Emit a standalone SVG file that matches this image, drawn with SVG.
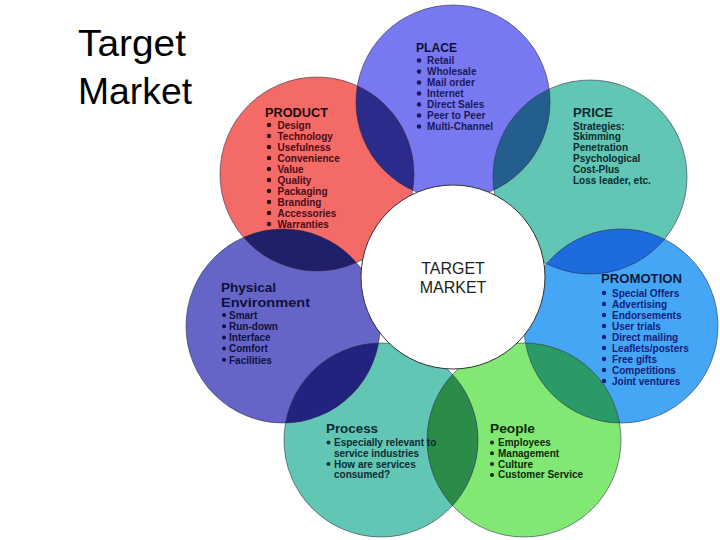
<svg xmlns="http://www.w3.org/2000/svg" width="720" height="540" viewBox="0 0 720 540">
<style>
.h{font-family:"Liberation Sans",Arial,sans-serif;font-weight:bold;font-size:12.5px}
.t{font-family:"Liberation Sans",Arial,sans-serif;font-weight:bold;font-size:10px}
.ring{fill:none;stroke:#262640;stroke-opacity:0.55;stroke-width:1}
.title{font-family:"Liberation Sans",Arial,sans-serif;font-size:37px;fill:#000}
.tm{font-family:"Liberation Sans",Arial,sans-serif;font-size:16px;fill:#222;text-anchor:middle}
</style>
<defs>
<clipPath id="cPlace"><circle cx="453" cy="102" r="97"/></clipPath>
<clipPath id="cPrice"><circle cx="590" cy="177" r="97"/></clipPath>
<clipPath id="cPromo"><circle cx="621" cy="326" r="97"/></clipPath>
<clipPath id="cPeople"><circle cx="524" cy="440" r="97"/></clipPath>
<clipPath id="cProcess"><circle cx="381" cy="440" r="97"/></clipPath>
<clipPath id="cPhys"><circle cx="283" cy="326" r="97"/></clipPath>
<clipPath id="cProduct"><circle cx="317" cy="174" r="97"/></clipPath>
</defs>
<rect width="720" height="540" fill="#fff"/>
<g id="heading">
<text class="title" x="78" y="56" textLength="108" lengthAdjust="spacingAndGlyphs">Target</text>
<text class="title" x="78" y="104" textLength="114" lengthAdjust="spacingAndGlyphs">Market</text>
</g>
<g id="circles">
<circle id="c-place" cx="453" cy="102" r="97" fill="#7878F0"/>
<circle id="c-price" cx="590" cy="177" r="97" fill="#62C6B4"/>
<circle id="c-promo" cx="621" cy="326" r="97" fill="#46A6F6"/>
<circle id="c-people" cx="524" cy="440" r="97" fill="#82E874"/>
<circle id="c-process" cx="381" cy="440" r="97" fill="#62C6B4"/>
<circle id="c-phys" cx="283" cy="326" r="97" fill="#6565C8"/>
<circle id="c-product" cx="317" cy="174" r="97" fill="#F36A66"/>
</g>
<g id="overlaps">
<circle cx="317" cy="174" r="97" fill="#2B2B8C" clip-path="url(#cPlace)"/>
<circle cx="590" cy="177" r="97" fill="#235E8E" clip-path="url(#cPlace)"/>
<circle cx="621" cy="326" r="97" fill="#1E6BE0" clip-path="url(#cPrice)"/>
<circle cx="524" cy="440" r="97" fill="#2A9A66" clip-path="url(#cPromo)"/>
<circle cx="381" cy="440" r="97" fill="#2A8C48" clip-path="url(#cPeople)"/>
<circle cx="283" cy="326" r="97" fill="#22237E" clip-path="url(#cProcess)"/>
<circle cx="317" cy="174" r="97" fill="#1F1F6A" clip-path="url(#cPhys)"/>
</g>
<g id="outlines">
<circle class="ring" cx="453" cy="102" r="97"/>
<circle class="ring" cx="590" cy="177" r="97"/>
<circle class="ring" cx="621" cy="326" r="97"/>
<circle class="ring" cx="524" cy="440" r="97"/>
<circle class="ring" cx="381" cy="440" r="97"/>
<circle class="ring" cx="283" cy="326" r="97"/>
<circle class="ring" cx="317" cy="174" r="97"/>
</g>
<g id="target">
<circle cx="453" cy="277" r="92" fill="#fff" stroke="#333" stroke-width="1"/>
<text class="tm" x="453" y="274">TARGET</text>
<text class="tm" x="453" y="293">MARKET</text>
</g>
<g id="place" fill="#1a1a5a">
<text class="h" x="416" y="52" textLength="41" lengthAdjust="spacingAndGlyphs" fill="#10103a">PLACE</text>
<g><circle cx="419" cy="60.5" r="2.2"/><circle cx="419" cy="71.5" r="2.2"/><circle cx="419" cy="82.5" r="2.2"/><circle cx="419" cy="93.5" r="2.2"/><circle cx="419" cy="104.5" r="2.2"/><circle cx="419" cy="115.5" r="2.2"/><circle cx="419" cy="126.5" r="2.2"/></g>
<text class="t" x="427" y="64">Retail</text>
<text class="t" x="427" y="75">Wholesale</text>
<text class="t" x="427" y="86">Mail order</text>
<text class="t" x="427" y="97">Internet</text>
<text class="t" x="427" y="108">Direct Sales</text>
<text class="t" x="427" y="119">Peer to Peer</text>
<text class="t" x="427" y="130">Multi-Channel</text>
</g>
<g id="product" fill="#4a0c18">
<text class="h" x="265" y="116.5" textLength="63" lengthAdjust="spacingAndGlyphs" fill="#1e0a0e">PRODUCT</text>
<g fill="#2a0a10"><circle cx="269" cy="125" r="2.2"/><circle cx="269" cy="136" r="2.2"/><circle cx="269" cy="147" r="2.2"/><circle cx="269" cy="158" r="2.2"/><circle cx="269" cy="169" r="2.2"/><circle cx="269" cy="180" r="2.2"/><circle cx="269" cy="191" r="2.2"/><circle cx="269" cy="202" r="2.2"/><circle cx="269" cy="213" r="2.2"/><circle cx="269" cy="224" r="2.2"/></g>
<text class="t" x="277.5" y="128.5">Design</text>
<text class="t" x="277.5" y="139.5">Technology</text>
<text class="t" x="277.5" y="150.5">Usefulness</text>
<text class="t" x="277.5" y="161.5">Convenience</text>
<text class="t" x="277.5" y="172.5">Value</text>
<text class="t" x="277.5" y="183.5">Quality</text>
<text class="t" x="277.5" y="194.5">Packaging</text>
<text class="t" x="277.5" y="205.5">Branding</text>
<text class="t" x="277.5" y="216.5">Accessories</text>
<text class="t" x="277.5" y="227.5">Warranties</text>
</g>
<g id="price" fill="#0c2a2e">
<text class="h" x="573" y="116.5" textLength="40" lengthAdjust="spacingAndGlyphs">PRICE</text>
<text class="t" x="573" y="129.5">Strategies:</text>
<text class="t" x="573" y="140.3">Skimming</text>
<text class="t" x="573" y="151.1">Penetration</text>
<text class="t" x="573" y="161.9">Psychological</text>
<text class="t" x="573" y="172.7">Cost-Plus</text>
<text class="t" x="573" y="183.5">Loss leader, etc.</text>
</g>
<g id="promotion" fill="#12207a">
<text class="h" x="601" y="283" textLength="81" lengthAdjust="spacingAndGlyphs" fill="#101840">PROMOTION</text>
<g><circle cx="604" cy="293" r="2.2"/><circle cx="604" cy="304" r="2.2"/><circle cx="604" cy="315" r="2.2"/><circle cx="604" cy="326" r="2.2"/><circle cx="604" cy="337" r="2.2"/><circle cx="604" cy="348" r="2.2"/><circle cx="604" cy="359" r="2.2"/><circle cx="604" cy="370" r="2.2"/><circle cx="604" cy="381" r="2.2"/></g>
<text class="t" x="612" y="296.5">Special Offers</text>
<text class="t" x="612" y="307.5">Advertising</text>
<text class="t" x="612" y="318.5">Endorsements</text>
<text class="t" x="612" y="329.5">User trials</text>
<text class="t" x="612" y="340.5">Direct mailing</text>
<text class="t" x="612" y="351.5">Leaflets/posters</text>
<text class="t" x="612" y="362.5">Free gifts</text>
<text class="t" x="612" y="373.5">Competitions</text>
<text class="t" x="612" y="384.5">Joint ventures</text>
</g>
<g id="physical" fill="#10103e">
<text class="h" x="221" y="292" textLength="55" lengthAdjust="spacingAndGlyphs">Physical</text>
<text class="h" x="221" y="307" textLength="89" lengthAdjust="spacingAndGlyphs">Environment</text>
<g><circle cx="224" cy="315" r="2"/><circle cx="224" cy="326.2" r="2"/><circle cx="224" cy="337.4" r="2"/><circle cx="224" cy="348.6" r="2"/><circle cx="224" cy="359.8" r="2"/></g>
<text class="t" x="229" y="318.7">Smart</text>
<text class="t" x="229" y="329.9">Run-down</text>
<text class="t" x="229" y="341.1">Interface</text>
<text class="t" x="229" y="352.3">Comfort</text>
<text class="t" x="229" y="363.5">Facilities</text>
</g>
<g id="process" fill="#0c2c34">
<text class="h" x="326" y="433" textLength="52" lengthAdjust="spacingAndGlyphs">Process</text>
<circle cx="328.5" cy="442.5" r="2"/><circle cx="328.5" cy="464" r="2"/>
<text class="t" x="334" y="446">Especially relevant to</text>
<text class="t" x="334" y="456.8">service industries</text>
<text class="t" x="334" y="467.6">How are services</text>
<text class="t" x="334" y="478.4">consumed?</text>
</g>
<g id="people" fill="#0c2a0c">
<text class="h" x="490" y="433" textLength="45" lengthAdjust="spacingAndGlyphs">People</text>
<circle cx="492" cy="442.5" r="2"/><circle cx="492" cy="453.3" r="2"/><circle cx="492" cy="464.1" r="2"/><circle cx="492" cy="474.9" r="2"/>
<text class="t" x="498" y="446">Employees</text>
<text class="t" x="498" y="456.8">Management</text>
<text class="t" x="498" y="467.6">Culture</text>
<text class="t" x="498" y="478.4">Customer Service</text>
</g>
</svg>
